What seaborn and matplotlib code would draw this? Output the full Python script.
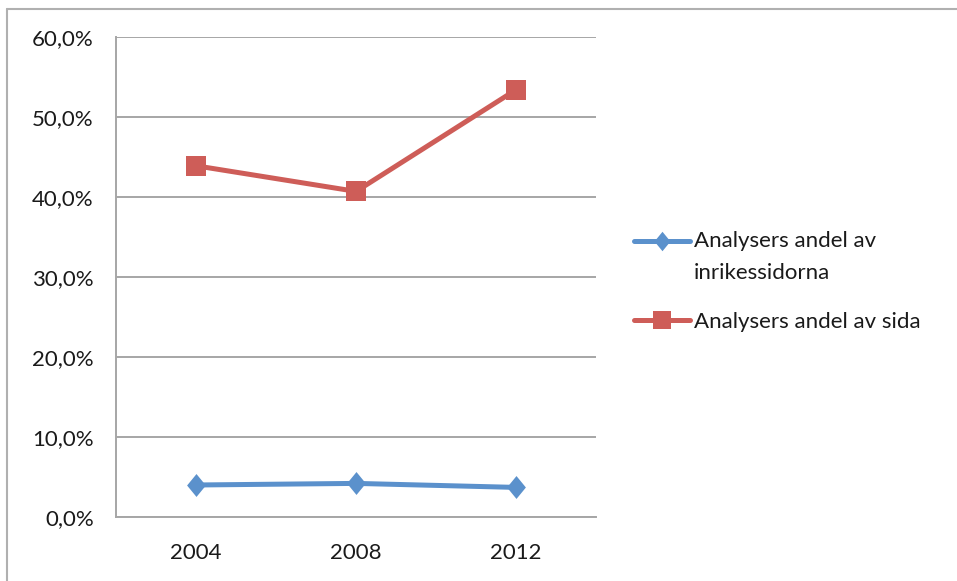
import matplotlib
matplotlib.use("Agg")
import matplotlib.pyplot as plt
from matplotlib.lines import Line2D
import seaborn as sns
import pandas as pd

# Data
years = ["2004", "2008", "2012"]
inrikes = [4.0, 4.2, 3.7]          # Analysers andel av inrikessidorna (%)
sida = [43.9, 40.7, 53.4]          # Analysers andel av sida (%)
series_names = ["Analysers andel av\ninrikessidorna", "Analysers andel av sida"]
y_ticks = [0, 10, 20, 30, 40, 50, 60]
y_tick_labels = ["0,0%", "10,0%", "20,0%", "30,0%", "40,0%", "50,0%", "60,0%"]

BLUE = "#5B91CC"
RED = "#CE5D58"
GRID = "#A6A6A6"
TEXT = "#1a1a1a"

sns.set_theme(style="white")
plt.rcParams["font.family"] = ["Lato", "DejaVu Sans"]
FS = 16

rows = []
for name, vals in zip(series_names, [inrikes, sida]):
    for i, (yr, v) in enumerate(zip(years, vals)):
        rows.append({"pos": i, "year": yr, "value": v, "series": name})
df = pd.DataFrame(rows)

# Slightly tall diamond marker
diamond = [(0, 1), (0.82, 0), (0, -1), (-0.82, 0), (0, 1)]

fig = plt.figure(figsize=(9.57, 5.81), dpi=100)
ax = fig.add_axes([116 / 957, 1 - 517 / 581, 480 / 957, 480 / 581])

sns.lineplot(
    data=df, x="pos", y="value", hue="series", style="series",
    palette=[BLUE, RED], markers=[diamond, "s"], dashes=False,
    markersize=14, markeredgewidth=0, linewidth=3.6, ax=ax, legend=True,
)
# diamond a bit taller than the square
ax.lines[0].set_markersize(16.5)

ax.set_xlim(-0.5, len(years) - 0.5)
ax.set_ylim(0, 60)
ax.set_yticks(y_ticks)
ax.set_yticklabels(y_tick_labels, fontsize=FS, color=TEXT)
ax.set_xticks(range(len(years)))
ax.set_xticklabels(years, fontsize=FS, color=TEXT)
ax.set_xticks([i - 0.5 for i in range(len(years) + 1)], minor=True)
ax.tick_params(axis="x", which="major", length=0, pad=19)
ax.tick_params(axis="x", which="minor", length=7, width=1.3, color=GRID, direction="out")
ax.tick_params(axis="y", which="major", length=6, width=1.3, color=GRID, direction="out", pad=10)
ax.set_xlabel("")
ax.set_ylabel("")

ax.grid(axis="y", color=GRID, linewidth=1.4)
ax.grid(axis="x", visible=False)
ax.set_axisbelow(True)
for side in ["top", "right"]:
    ax.spines[side].set_visible(False)
for side in ["left", "bottom"]:
    ax.spines[side].set_color(GRID)
    ax.spines[side].set_linewidth(1.4)

# Legend to the right of the plot
ax.get_legend().remove()
handles, labels = ax.get_legend_handles_labels()
leg = fig.legend(
    handles, labels, loc="upper left", bbox_to_anchor=(614 / 957, 1 - 211 / 581),
    frameon=False, fontsize=FS, handlelength=2.5, handletextpad=0.2,
    labelspacing=1.3, labelcolor=TEXT,
)
for t in leg.get_texts():
    t.set_linespacing(1.75)
for h in leg.legend_handles:
    h.set_linewidth(3.6)
leg.legend_handles[0].set_marker(diamond)
leg.legend_handles[0].set_markersize(14)
leg.legend_handles[1].set_markersize(13)
# Align the first handle with the first line of its two-line label
first = leg.legend_handles[0]
first.set_ydata([y + 12 for y in first.get_ydata()])

# Outer chart-area border
fig.add_artist(Line2D([7 / 957, 7 / 957], [0, 1 - 9 / 581], transform=fig.transFigure,
                      color="#B0B0B0", linewidth=1.5))
fig.add_artist(Line2D([7 / 957, 1], [1 - 9 / 581, 1 - 9 / 581], transform=fig.transFigure,
                      color="#B0B0B0", linewidth=1.5))

fig.savefig("out.png", dpi=100, facecolor="white")
